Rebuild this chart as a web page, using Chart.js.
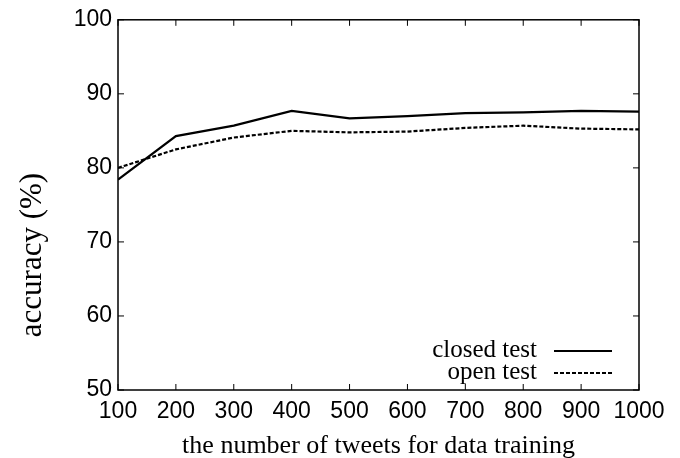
<!DOCTYPE html>
<html>
<head>
<meta charset="utf-8">
<script src="https://cdn.jsdelivr.net/npm/chart.js@4.4.1/dist/chart.umd.min.js"></script>
<style>
  html, body { margin: 0; padding: 0; background: #fff; }
  #wrap { width: 680px; height: 458px; }
</style>
</head>
<body>
<div id="wrap"><canvas id="myChart" width="680" height="458"></canvas></div>
<script>
// values
const tweetCounts = [100, 200, 300, 400, 500, 600, 700, 800, 900, 1000];
const closedTest = [78.4, 84.3, 85.7, 87.7, 86.7, 87.0, 87.4, 87.5, 87.7, 87.6];
const openTest = [80.0, 82.5, 84.1, 85.0, 84.8, 84.9, 85.4, 85.7, 85.3, 85.2];
const yTicks = [50, 60, 70, 80, 90, 100];
const xTitle = "the number of tweets for data training";
const yTitle = "accuracy (%)";

const serif = "'Liberation Serif', 'Times New Roman', serif";
const sans = "'Liberation Sans', Arial, sans-serif";

function toPoints(values){
    let pts = [];
    for(let i = 0; i < tweetCounts.length; i++){
        pts.push({x: tweetCounts[i], y: values[i]});
    }
    return pts;
}

// frame, inward ticks, axis titles and the gnuplot-like key
const gnuplotStyle = {
    id: 'gnuplotStyle',
    afterDraw(chart){
        const ctx = chart.ctx;
        const a = chart.chartArea;
        const xs = chart.scales.x;
        const ys = chart.scales.y;
        const tl = 6;

        ctx.save();
        ctx.strokeStyle = '#000';
        ctx.lineWidth = 1.5;
        ctx.strokeRect(a.left, a.top, a.right - a.left, a.bottom - a.top);

        ctx.lineWidth = 1;
        ctx.beginPath();
        tweetCounts.forEach(v => {
            const px = xs.getPixelForValue(v);
            ctx.moveTo(px, a.bottom); ctx.lineTo(px, a.bottom - tl);
            ctx.moveTo(px, a.top); ctx.lineTo(px, a.top + tl);
        });
        yTicks.forEach(v => {
            const py = ys.getPixelForValue(v);
            ctx.moveTo(a.left, py); ctx.lineTo(a.left + tl, py);
            ctx.moveTo(a.right, py); ctx.lineTo(a.right - tl, py);
        });
        ctx.stroke();

        // axis titles
        ctx.fillStyle = '#000';
        ctx.font = "26px " + serif;
        ctx.textAlign = 'center';
        ctx.textBaseline = 'alphabetic';
        ctx.fillText(xTitle, (a.left + a.right) / 2, 453);

        ctx.save();
        ctx.translate(41, 255);
        ctx.rotate(-Math.PI / 2);
        ctx.font = "31px " + serif;
        ctx.fillText(yTitle, 0, 0);
        ctx.restore();

        // key
        ctx.font = "25px " + serif;
        ctx.textAlign = 'right';
        chart.data.datasets.forEach((ds, i) => {
            const base = 357 + i * 22;
            ctx.fillText(ds.label, 537, base);
            ctx.beginPath();
            ctx.lineWidth = ds.borderWidth;
            ctx.setLineDash(ds.borderDash || []);
            ctx.moveTo(554, base - 6);
            ctx.lineTo(612, base - 6);
            ctx.stroke();
        });
        ctx.setLineDash([]);
        ctx.restore();
    }
};

function createLineChart(){
    const ctx = document.getElementById('myChart');
    new Chart(ctx, {
        type: 'line',
        data: {
            datasets: [{
                label: 'closed test',
                data: toPoints(closedTest),
                borderColor: '#000',
                borderWidth: 2.2,
                pointRadius: 0,
                tension: 0
            },{
                label: 'open test',
                data: toPoints(openTest),
                borderColor: '#000',
                borderWidth: 2.2,
                borderDash: [4, 2],
                pointRadius: 0,
                tension: 0
            }]
        },
        options: {
            responsive: false,
            animation: false,
            events: [],
            layout: { padding: { top: 18, right: 41, left: 0, bottom: 0 } },
            plugins: {
                legend: { display: false },
                tooltip: { enabled: false }
            },
            scales: {
                x: {
                    type: 'linear',
                    min: 100,
                    max: 1000,
                    afterFit: s => { s.height = 68; },
                    afterBuildTicks: s => { s.ticks = tweetCounts.map(v => ({value: v})); },
                    grid: { display: false, drawTicks: false },
                    border: { display: false },
                    ticks: {
                        color: '#000',
                        padding: 8,
                        autoSkip: false,
                        maxRotation: 0,
                        minRotation: 0,
                        callback: v => String(v),
                        font: { family: sans, size: 23 }
                    }
                },
                y: {
                    min: 50,
                    max: 100,
                    afterFit: s => { s.width = 118; },
                    afterBuildTicks: s => { s.ticks = yTicks.map(v => ({value: v})); },
                    grid: { display: false, drawTicks: false },
                    border: { display: false },
                    ticks: { color: '#000', padding: 6, font: { family: sans, size: 23 } }
                }
            }
        },
        plugins: [gnuplotStyle]
    });
}

createLineChart();
</script>
</body>
</html>
